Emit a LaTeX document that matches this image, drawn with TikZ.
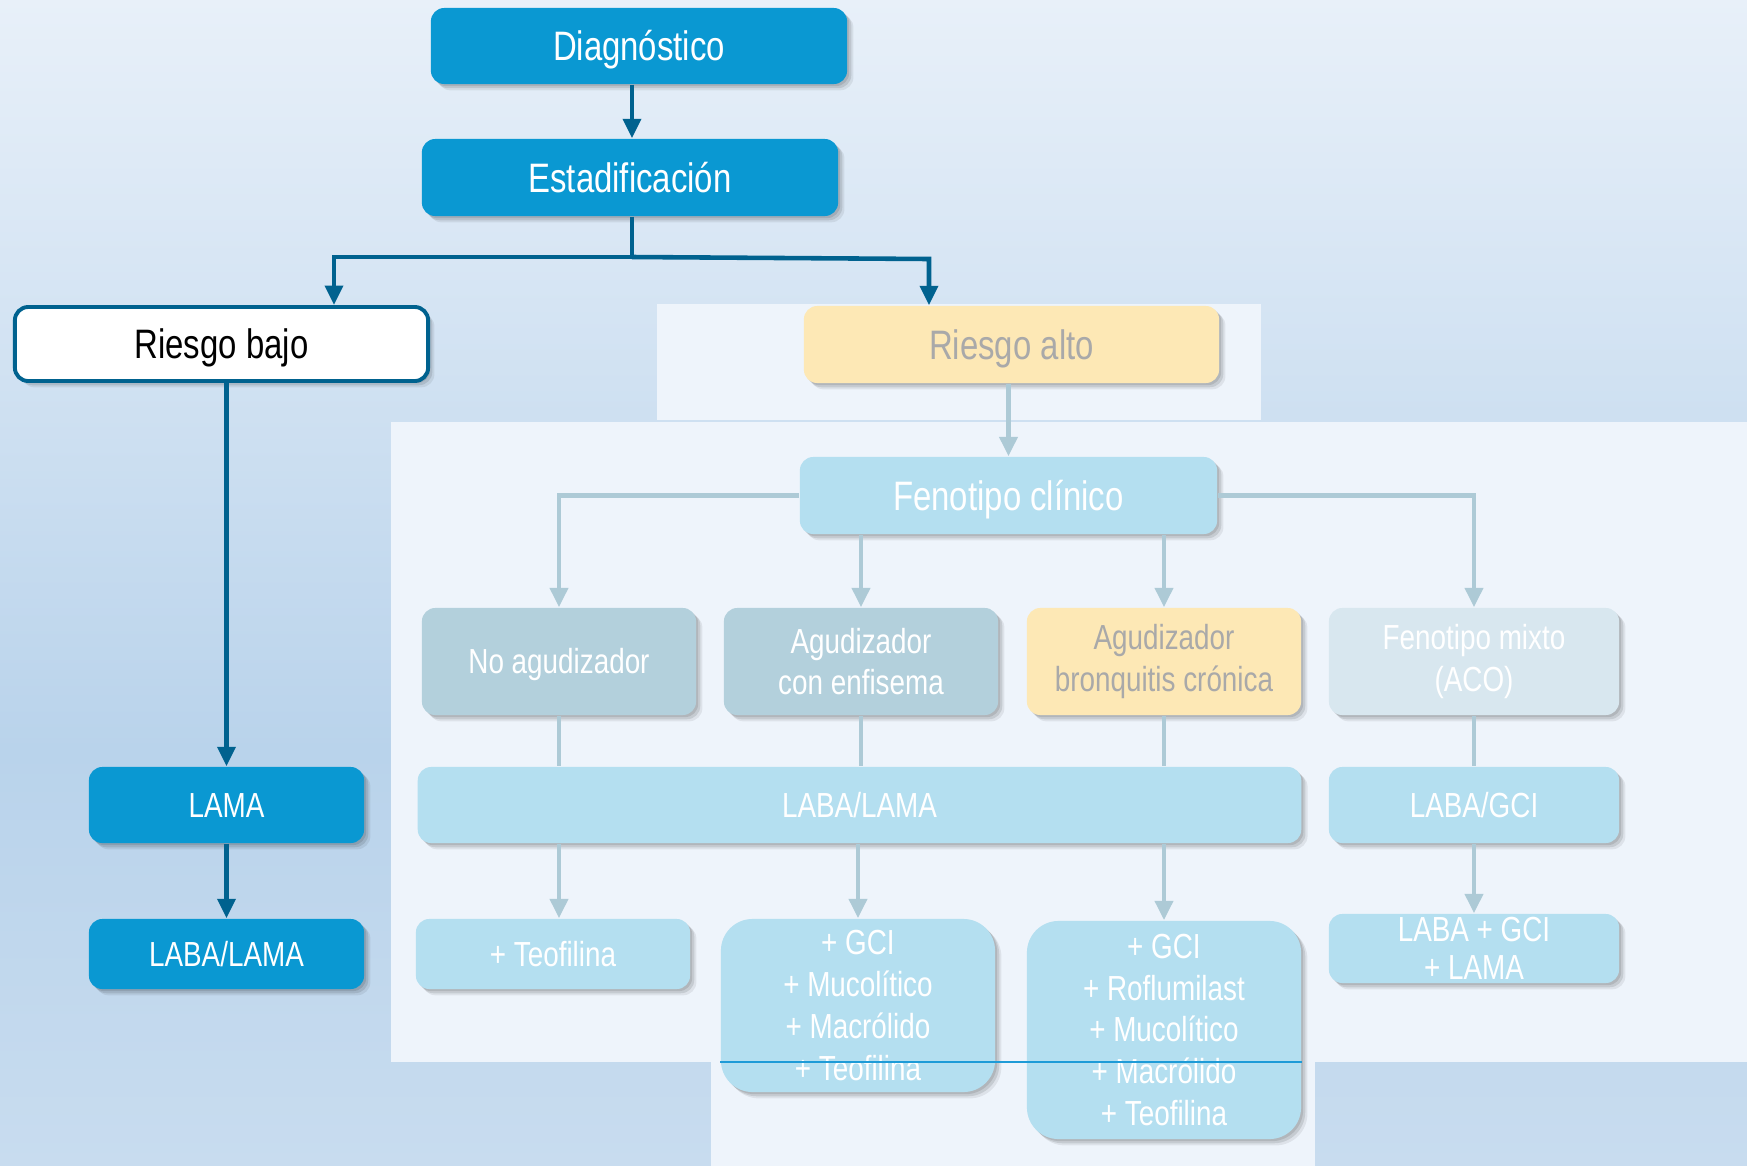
\documentclass[tikz,border=0pt]{standalone}
\usepackage{fontspec}
\setmainfont{Liberation Sans}[FakeStretch=0.8]
\usetikzlibrary{shadows,arrows.meta}

\definecolor{cBlue}{HTML}{0A98D2}
\definecolor{cDark}{HTML}{00628F}
\definecolor{cLink}{HTML}{ADCAD6}
\definecolor{cYellow}{HTML}{FDE8B5}
\definecolor{cGreyText}{HTML}{A9A9A9}
\definecolor{cCyan}{HTML}{B4DFF0}
\definecolor{cPhen}{HTML}{B3D0DC}
\definecolor{cMixto}{HTML}{D8E7EF}
\definecolor{bgTop}{HTML}{E8F0F9}
\definecolor{bgMid}{HTML}{B9D3EB}
\definecolor{bgBot}{HTML}{C8DCEF}
\definecolor{cPanel}{HTML}{EEF4FB}
\definecolor{cEdge}{HTML}{1E9BD7}

\tikzset{
  softshadow/.style={
    drop shadow={shadow xshift=0.6pt, shadow yshift=-0.6pt, opacity=0.10, fill=black},
    drop shadow={shadow xshift=1.2pt, shadow yshift=-1.2pt, opacity=0.10, fill=black},
    drop shadow={shadow xshift=1.8pt, shadow yshift=-1.8pt, opacity=0.07, fill=black}},
  box/.style={rounded corners=3.8pt, inner sep=0pt, align=center, softshadow},
  bigfont/.style={font=\fontsize{11.7}{14}\selectfont, text height=8.4pt, text depth=0pt},
  smallfont/.style={font=\fontsize{9.9}{11.9}\selectfont},
  oneline/.style={text height=7.1pt, text depth=0pt},
  darkbox/.style={box, fill=cBlue, text=white},
  lowbox/.style={box, draw=cDark, line width=1.1pt, fill=white, text=black},
  yellowbox/.style={box, fill=cYellow, text=cGreyText},
  cyanbox/.style={box, fill=cCyan, text=white},
  phenbox/.style={box, fill=cPhen, text=white},
  mixbox/.style={box, fill=cMixto, text=white},
  darkline/.style={draw=cDark, line width=1.3pt},
  darkarrow/.style={darkline, -{Triangle[length=5.5pt,width=5pt]}},
  linkline/.style={draw=cLink, line width=1.4pt},
  linkarrow/.style={linkline, -{Triangle[length=5.5pt,width=5pt]}},
}

\begin{document}
\begin{tikzpicture}[x=0.01cm, y=-0.01cm]
% background
\shade[top color=bgTop, bottom color=bgMid] (0,0) rectangle (1747,750);
\shade[top color=bgMid, bottom color=bgBot] (0,750) rectangle (1747,1166);
\useasboundingbox (0,0) rectangle (1747,1166);

% light panels
\fill[cPanel] (657,304) rectangle (1261,420);
\fill[cPanel] (391,422) rectangle (1747,1062);
\fill[cPanel] (711,1062) rectangle (1315,1166);

% upper chain
\node[darkbox, bigfont, minimum width=4.16cm, minimum height=0.76cm] (diag) at (639,46) {Diagnóstico};
\node[darkbox, bigfont, minimum width=4.16cm, minimum height=0.77cm] (estad) at (630,177.5) {Estadificación};
\node[lowbox, bigfont, minimum width=4.13cm, minimum height=0.74cm] (rbajo) at (221.5,344) {Riesgo bajo};
\node[yellowbox, bigfont, minimum width=4.15cm, minimum height=0.77cm] (ralto) at (1011.5,344.5) {Riesgo alto};

% low-risk branch
\node[darkbox, smallfont, oneline, minimum width=2.75cm, minimum height=0.76cm] (lama) at (226.5,805) {LAMA};
\node[darkbox, smallfont, oneline, minimum width=2.75cm, minimum height=0.70cm] (lablamL) at (226.5,954) {LABA/LAMA};

% high-risk branch
\node[cyanbox, bigfont, minimum width=4.17cm, minimum height=0.77cm] (fen) at (1008.5,495.5) {Fenotipo clínico};
\node[phenbox, smallfont, oneline, minimum width=2.74cm, minimum height=1.07cm] (noag) at (559,661.5) {No agudizador};
\node[phenbox, smallfont, minimum width=2.74cm, minimum height=1.07cm] (enf) at (861,661.5) {Agudizador\\con enfisema};
\node[yellowbox, smallfont, minimum width=2.74cm, minimum height=1.07cm] (bron) at (1164,661.5) {Agudizador\\bronquitis crónica};
\node[mixbox, smallfont, minimum width=2.90cm, minimum height=1.07cm] (mixto) at (1474,661.5) {Fenotipo mixto\\(ACO)};

\node[cyanbox, smallfont, oneline, minimum width=8.83cm, minimum height=0.76cm] (lablam) at (859.5,805) {LABA/LAMA};
\node[cyanbox, smallfont, oneline, minimum width=2.90cm, minimum height=0.76cm] (labgci) at (1474,805) {LABA/GCI};

\node[cyanbox, smallfont, oneline, minimum width=2.74cm, minimum height=0.70cm] (teof) at (553,954) {+ Teofilina};
\node[cyanbox, smallfont, rounded corners=9pt, minimum width=2.74cm, minimum height=1.73cm] (gcia) at (858,1005.5)
  {+ GCI\\+ Mucolítico\\+ Macrólido\\+ Teofilina};
\node[cyanbox, smallfont, rounded corners=9pt, minimum width=2.74cm, minimum height=2.18cm] (gcib) at (1164,1030)
  {+ GCI\\+ Roflumilast\\+ Mucolítico\\+ Macrólido\\+ Teofilina};
\node[cyanbox, font=\fontsize{9.9}{10.8}\selectfont, minimum width=2.90cm, minimum height=0.69cm] (triple) at (1474,948.5)
  {LABA + GCI\\+ LAMA};

% thin edge line of the lower panel over the boxes
\draw[cEdge, line width=0.4pt] (gcia.west |- 0,1062) -- (gcib.east |- 0,1062);

% dark connectors
\coordinate (jc) at (632,257);
\coordinate (jl) at (334,257);
\coordinate (jr) at (929,259);
\draw[darkarrow] (diag.south -| jc) -- (estad.north -| jc);
\draw[darkline] (estad.south -| jc) -- (jc);
\draw[darkarrow] (jc) -- (jl) -- (rbajo.north -| jl);
\draw[darkarrow] (jc) -- (jr) -- (ralto.north -| jr);
\draw[darkarrow] (rbajo.south -| lama) -- (lama.north);
\draw[darkarrow] (lama.south) -- (lablamL.north);

% light connectors
\draw[linkarrow] (ralto.south -| fen) -- (fen.north);
\draw[linkarrow] (fen.west) -| (noag.north);
\draw[linkarrow] (fen.east) -| (mixto.north);
\draw[linkarrow] (fen.south -| enf) -- (enf.north);
\draw[linkarrow] (fen.south -| bron) -- (bron.north);

\draw[linkline] (noag.south) -- (lablam.north -| noag);
\draw[linkline] (enf.south) -- (lablam.north -| enf);
\draw[linkline] (bron.south) -- (lablam.north -| bron);
\draw[linkline] (mixto.south) -- (labgci.north);

\draw[linkarrow] (lablam.south -| noag) -- (teof.north -| noag);
\draw[linkarrow] (lablam.south -| gcia) -- (gcia.north);
\draw[linkarrow] (lablam.south -| gcib) -- (gcib.north);
\draw[linkarrow] (labgci.south) -- (triple.north);
\end{tikzpicture}
\end{document}
